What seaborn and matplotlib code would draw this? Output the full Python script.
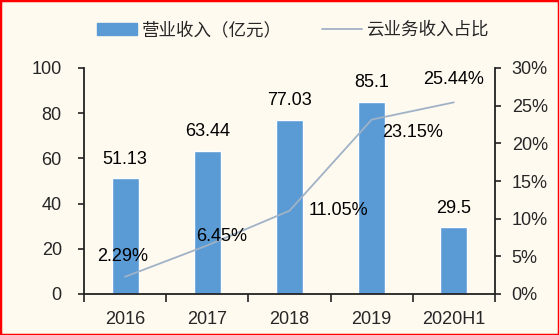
import numpy as np
import pandas as pd
import matplotlib
matplotlib.use("Agg")
import matplotlib.pyplot as plt
from matplotlib.patches import Rectangle, Patch
from matplotlib.lines import Line2D
from matplotlib.ticker import FuncFormatter, FixedLocator
import seaborn as sns

# ---- data ----
years = ["2016", "2017", "2018", "2019", "2020H1"]
revenue = [51.13, 63.44, 77.03, 85.1, 29.5]
revenue_labels = ["51.13", "63.44", "77.03", "85.1", "29.5"]
cloud_ratio = [0.0229, 0.0645, 0.1105, 0.2315, 0.2544]
ratio_labels = ["2.29%", "6.45%", "11.05%", "23.15%", "25.44%"]
legend_labels = ["营业收入（亿元）", "云业务收入占比"]

# ---- style ----
sns.set_theme(style="white")
plt.rcParams['font.family'] = ['Liberation Sans', 'Noto Sans CJK SC', 'DejaVu Sans']
BG = "#FFFAF0"
BAR = "#5B9BD5"
LINE = "#A0B2C6"
SPINE = "#222222"
FS = 13

W, H = 559, 335
fig = plt.figure(figsize=(W / 100, H / 100), dpi=100, facecolor=BG)
ax = fig.add_axes([84 / W, 1 - 294 / H, (495 - 84) / W, (294 - 68) / H])
ax.set_facecolor(BG)

df = pd.DataFrame({"year": years, "revenue": revenue})
sns.barplot(data=df, x="year", y="revenue", color=BAR, width=0.33,
            saturation=1, ax=ax)
ax.set_xlim(-0.5, len(years) - 0.5)
ax.set_ylim(0, 100)
ax.set_yticks(np.arange(0, 101, 20))
ax.set_xlabel("")
ax.set_ylabel("")

for i, (v, lab) in enumerate(zip(revenue, revenue_labels)):
    ax.annotate(lab, (i, v), xytext=(0, 19), textcoords="offset pixels",
                ha="center", va="center", fontsize=FS, color="black")

ax2 = ax.twinx()
sns.lineplot(x=np.arange(len(years)), y=cloud_ratio, color=LINE,
             linewidth=1.3, ax=ax2)
ax2.set_ylim(0, 0.30)
ax2.set_yticks(np.arange(0, 0.301, 0.05))
ax2.yaxis.set_major_formatter(FuncFormatter(lambda v, p: f"{v*100:.0f}%"))
ax2.set_xlim(-0.5, len(years) - 0.5)

offsets = [(-2, 20), (14, 9), (49, 0), (41, -13), (0, 23)]
for i, (v, lab) in enumerate(zip(cloud_ratio, ratio_labels)):
    ax2.annotate(lab, (i, v), xytext=offsets[i], textcoords="offset pixels",
                 ha="center", va="center", fontsize=FS, color="black")

# spines / ticks
for a in (ax, ax2):
    a.spines["top"].set_visible(False)
    for s in ("left", "right", "bottom"):
        a.spines[s].set_color(SPINE)
        a.spines[s].set_linewidth(1.3)
ax.spines["right"].set_visible(False)
ax2.spines["left"].set_visible(False)
ax2.spines["bottom"].set_visible(False)

ax.tick_params(axis="y", which="major", direction="out", length=4, width=1.2,
               color=SPINE, labelsize=FS, pad=12, left=True)
ax2.tick_params(axis="y", which="major", direction="out", length=4, width=1.2,
                color=SPINE, labelsize=FS, pad=8, right=True)
ax.set_xticks(np.arange(len(years)))
ax.set_xticklabels(years)
ax.xaxis.set_minor_locator(FixedLocator(np.arange(-0.5, len(years), 1.0)))
ax.tick_params(axis="x", which="major", direction="in", length=5, width=1.2,
               color=SPINE, labelsize=FS, pad=12.5, bottom=True)
ax.tick_params(axis="x", which="minor", direction="out", length=6, width=1.2,
               color=SPINE, bottom=True)
ax2.tick_params(axis="x", which="both", bottom=False, top=False,
                labelbottom=False)
ax.grid(False)
ax2.grid(False)

handles = [Patch(facecolor=BAR, edgecolor=BAR),
           Line2D([0], [0], color=LINE, linewidth=1.3)]
fig.legend(handles, legend_labels, loc="center",
           bbox_to_anchor=(293 / W, 1 - 30 / H), ncol=2, frameon=False,
           handlelength=2.3, handleheight=0.7,
           handletextpad=0.25, columnspacing=2.3,
           prop={"family": ["Noto Sans CJK SC", "DejaVu Sans"], "size": 12.6})

fig.patches.append(Rectangle((0, 0), 1, 1, transform=fig.transFigure,
                             fill=False, edgecolor="red", linewidth=2.5,
                             zorder=10))

fig.savefig("out.png", dpi=100, facecolor=BG)
